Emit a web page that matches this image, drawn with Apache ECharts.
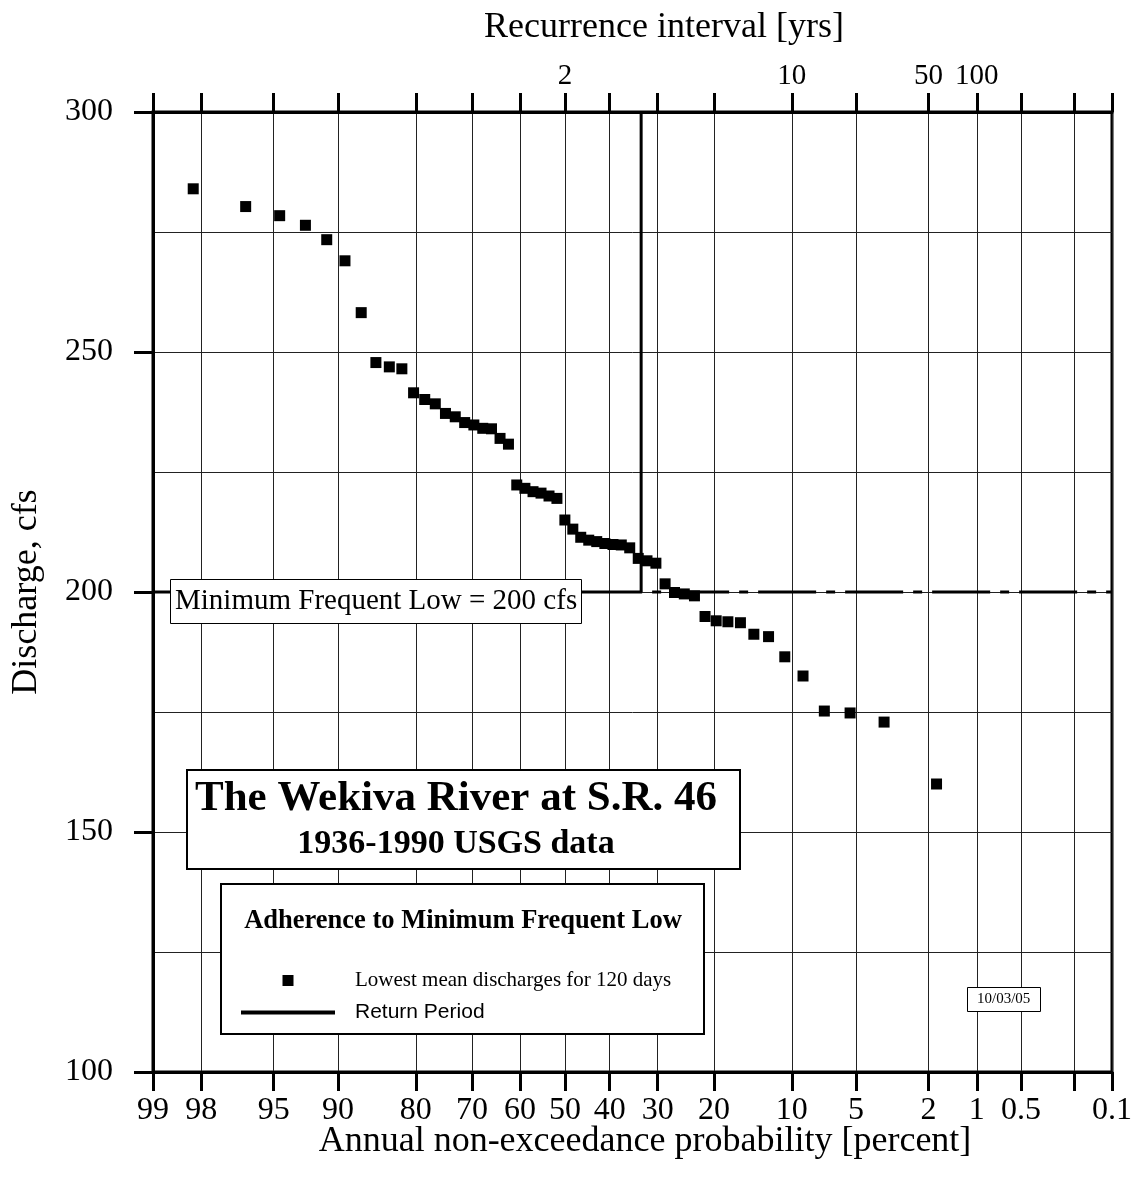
<!DOCTYPE html>
<html><head><meta charset="utf-8">
<script src="https://cdn.jsdelivr.net/npm/echarts@6/dist/echarts.min.js"></script>
<style>html,body{margin:0;padding:0;background:#fff}#chart{width:1135px;height:1193px}</style>
</head><body><div id="chart"></div>
<script>
// ---- data ----
const nonExceedancePct = [98.21, 96.43, 94.64, 92.86, 91.07, 89.29, 87.50, 85.71, 83.93, 82.14, 80.36, 78.57, 76.79, 75.00, 73.21, 71.43, 69.64, 67.86, 66.07, 64.29, 62.50, 60.71, 58.93, 57.14, 55.36, 53.57, 51.79, 50.00, 48.21, 46.43, 44.64, 42.86, 41.07, 39.29, 37.50, 35.71, 33.93, 32.14, 30.36, 28.57, 26.79, 25.00, 23.21, 21.43, 19.64, 17.86, 16.07, 14.29, 12.50, 10.71, 8.93, 7.14, 5.36, 3.57, 1.79];
const dischargeCfs = [284.0, 280.3, 278.4, 276.4, 273.4, 269.0, 258.2, 247.8, 246.9, 246.5, 241.5, 240.1, 239.2, 237.2, 236.5, 235.3, 234.8, 234.1, 234.0, 232.0, 230.8, 222.3, 221.6, 220.9, 220.6, 220.0, 219.5, 215.0, 213.1, 211.4, 210.8, 210.5, 210.1, 209.9, 209.8, 209.2, 207.0, 206.5, 206.0, 201.7, 199.9, 199.6, 199.2, 194.9, 194.0, 193.8, 193.6, 191.2, 190.7, 186.5, 182.5, 175.2, 174.8, 172.9, 160.0];
const probTicks = [99, 98, 95, 90, 80, 70, 60, 50, 40, 30, 20, 10, 5, 2, 1, 0.5, 0.2, 0.1];
const probTickLabels = ['99', '98', '95', '90', '80', '70', '60', '50', '40', '30', '20', '10', '5', '2', '1', '0.5', '', '0.1'];
const recurrenceYears = [2, 10, 50, 100];
const dischargeRange = [100, 300];
const minFrequentLow = 200;
const returnPeriodYears = 3;

// ---- normal-probability scale ----
function normInv(p) {
  const a = [-3.969683028665376e+01, 2.209460984245205e+02, -2.759285104469687e+02, 1.383577518672690e+02, -3.066479806614716e+01, 2.506628277459239e+00];
  const b = [-5.447609879822406e+01, 1.615858368580409e+02, -1.556989798598866e+02, 6.680131188771972e+01, -1.328068155288572e+01];
  const c = [-7.784894002430293e-03, -3.223964580411365e-01, -2.400758277161838e+00, -2.549671010446130e+00, 4.374664141464968e+00, 2.938163982698783e+00];
  const d = [7.784695709041462e-03, 3.224671290700398e-01, 2.445134137142996e+00, 3.754408661907416e+00];
  const pl = 0.02425, ph = 1 - pl;
  let q, r;
  if (p < pl) { q = Math.sqrt(-2 * Math.log(p)); return (((((c[0]*q+c[1])*q+c[2])*q+c[3])*q+c[4])*q+c[5]) / ((((d[0]*q+d[1])*q+d[2])*q+d[3])*q+1); }
  if (p <= ph) { q = p - 0.5; r = q*q; return (((((a[0]*r+a[1])*r+a[2])*r+a[3])*r+a[4])*r+a[5])*q / (((((b[0]*r+b[1])*r+b[2])*r+b[3])*r+b[4])*r+1); }
  q = Math.sqrt(-2 * Math.log(1 - p));
  return -(((((c[0]*q+c[1])*q+c[2])*q+c[3])*q+c[4])*q+c[5]) / ((((d[0]*q+d[1])*q+d[2])*q+d[3])*q+1);
}
const X = pct => -normInv(pct / 100);
const xMin = X(probTicks[0]);
const xMax = X(probTicks[probTicks.length - 1]);
const tickXs = probTicks.map(X);
const topXs = recurrenceYears.map(t => X(100 / t));
const xRet = X(100 / returnPeriodYears);
function pick(v, xs, labels) {
  for (let i = 0; i < xs.length; i++) if (Math.abs(xs[i] - v) < 1e-6) return labels[i];
  return '';
}

const SERIF = 'Liberation Serif';
const SANS = 'Liberation Sans';
const chart = echarts.init(document.getElementById('chart'), null, { renderer: 'canvas' });
chart.setOption({
  animation: false,
  backgroundColor: '#fff',
  grid: { left: 153, right: 22, top: 112, bottom: 121, show: true, borderColor: '#000', borderWidth: 3, backgroundColor: 'transparent' },
  title: [
    { text: 'Recurrence interval [yrs]', left: 664, top: 10, textAlign: 'center', padding: 0,
      textStyle: { fontFamily: SERIF, fontSize: 36, fontWeight: 'normal', color: '#000' } },
    { text: 'Annual non-exceedance probability [percent]', left: 645, top: 1124, textAlign: 'center', padding: 0,
      textStyle: { fontFamily: SERIF, fontSize: 36, fontWeight: 'normal', color: '#000' } },
    { text: 'Minimum Frequent Low = 200 cfs', left: 170, top: 579, padding: [8, 5, 8, 5], z: 6,
      borderColor: '#000', borderWidth: 1, backgroundColor: '#fff',
      textStyle: { fontFamily: SERIF, fontSize: 29, fontWeight: 'normal', color: '#000' } },
    { text: 'The Wekiva River at S.R. 46', subtext: '1936-1990 USGS data', left: 448, top: 770, textAlign: 'center',
      padding: [7, 23, 8, 8], itemGap: 7, z: 6, borderColor: '#000', borderWidth: 2, backgroundColor: '#fff',
      textStyle: { fontFamily: SERIF, fontSize: 43, fontWeight: 'bold', color: '#000' },
      subtextStyle: { fontFamily: SERIF, fontSize: 34, fontWeight: 'bold', color: '#000' } },
    { text: 'Adherence to Minimum Frequent Low', left: 440, top: 884, textAlign: 'center',
      padding: [24, 22, 99, 23], z: 2, borderColor: '#000', borderWidth: 2, backgroundColor: '#fff',
      textStyle: { fontFamily: SERIF, fontSize: 26.5, fontWeight: 'bold', color: '#000' } },
    { text: '10/03/05', left: 967, top: 987, padding: [5, 10, 5, 10], z: 6,
      borderColor: '#000', borderWidth: 1, backgroundColor: '#fff',
      textStyle: { fontFamily: SERIF, fontSize: 15, fontWeight: 'normal', color: '#000' } }
  ],
  legend: {
    orient: 'vertical', left: 241, top: 970, padding: 0, itemWidth: 94, itemHeight: 11, itemGap: 11,
    selectedMode: false, z: 5, symbolKeepAspect: true,
    textStyle: { fontSize: 21, color: '#000', padding: [0, 0, 0, 15] },
    data: [
      { name: 'Lowest mean discharges for 120 days', icon: 'path://M0,0H10V10H0Z', textStyle: { fontFamily: SERIF } },
      { name: 'Return Period', icon: 'path://M0,0H94V4H0Z', textStyle: { fontFamily: SANS } }
    ]
  },
  xAxis: [
    { type: 'value', position: 'bottom', min: xMin, max: xMax,
      axisLine: { show: true, onZero: false, lineStyle: { color: '#000', width: 3 } },
      axisTick: { show: true, inside: false, length: 19, customValues: tickXs, lineStyle: { color: '#000', width: 3 } },
      axisLabel: { show: true, customValues: tickXs, formatter: v => pick(v, tickXs, probTickLabels),
        fontFamily: SERIF, fontSize: 32, color: '#000', margin: 23 },
      splitLine: { show: true, lineStyle: { color: '#222', width: 1 } } },
    { type: 'value', position: 'top', min: xMin, max: xMax,
      axisLine: { show: true, onZero: false, lineStyle: { color: '#000', width: 3 } },
      axisTick: { show: true, inside: false, length: 19, customValues: tickXs, lineStyle: { color: '#000', width: 3 } },
      axisLabel: { show: true, customValues: topXs, formatter: v => pick(v, topXs, recurrenceYears.map(String)),
        fontFamily: SERIF, fontSize: 29, color: '#000', margin: 21 },
      splitLine: { show: false } }
  ],
  yAxis: [
    { type: 'value', position: 'left', min: dischargeRange[0], max: dischargeRange[1], interval: 25,
      axisLine: { show: true, onZero: false, lineStyle: { color: '#000', width: 3 } },
      axisTick: { show: false }, axisLabel: { show: false },
      splitLine: { show: true, lineStyle: { color: '#222', width: 1 } },
      name: 'Discharge, cfs', nameLocation: 'middle', nameGap: 108,
      nameTextStyle: { fontFamily: SERIF, fontSize: 36, color: '#000' } },
    { type: 'value', position: 'left', offset: 0, min: dischargeRange[0], max: dischargeRange[1], interval: 50,
      axisLine: { show: false, onZero: false },
      axisTick: { show: true, length: 19, lineStyle: { color: '#000', width: 3 } },
      axisLabel: { fontFamily: SERIF, fontSize: 32, color: '#000', margin: 40 },
      splitLine: { show: false } }
  ],
  series: [
    { name: 'Return Period', type: 'line', xAxisIndex: 0, yAxisIndex: 0,
      data: [[xRet, minFrequentLow], [xRet, dischargeRange[1]]],
      symbol: 'none', lineStyle: { color: '#000', width: 3 }, itemStyle: { color: '#000' }, z: 3 },
    { name: 'MFL', type: 'line', data: [[xMin, minFrequentLow], [xRet, minFrequentLow]],
      symbol: 'none', lineStyle: { color: '#000', width: 3 }, z: 3 },
    { name: 'MFL beyond', type: 'line', data: [[xRet, minFrequentLow], [xMax, minFrequentLow]],
      symbol: 'none', lineStyle: { color: '#000', width: 3, type: [58, 10, 9, 10], dashOffset: 57 }, z: 3 },
    { name: 'Lowest mean discharges for 120 days', type: 'scatter',
      data: nonExceedancePct.map((p, i) => [X(p), dischargeCfs[i]]),
      symbol: 'rect', symbolSize: 11, itemStyle: { color: '#000', opacity: 1 }, z: 4 }
  ]
});
</script></body></html>
